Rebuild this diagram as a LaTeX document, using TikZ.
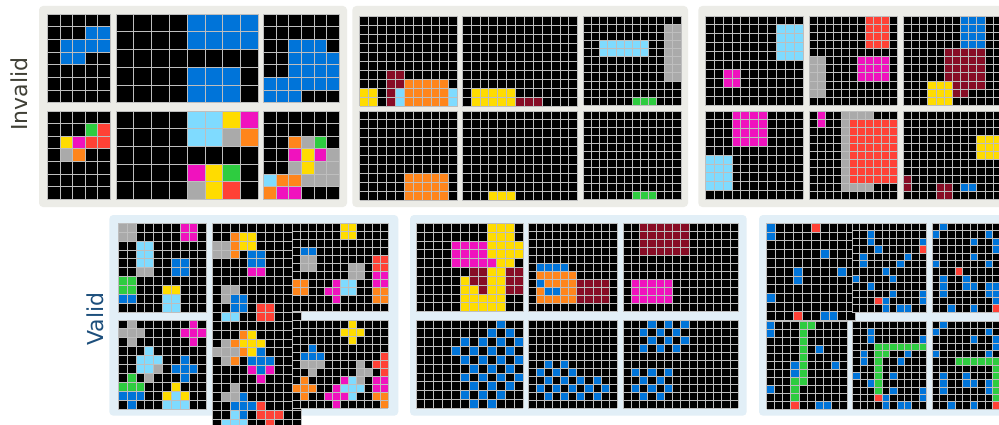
\documentclass[tikz,border=0pt]{standalone}
\usepackage{fontspec}
\newfontfamily\labelfont{DejaVu Sans}
\definecolor{ablue}{HTML}{0074D9}
\definecolor{ared}{HTML}{FF4136}
\definecolor{agreen}{HTML}{2ECC40}
\definecolor{ayellow}{HTML}{FFDC00}
\definecolor{agray}{HTML}{AAAAAA}
\definecolor{amag}{HTML}{F012BE}
\definecolor{aorange}{HTML}{FF851B}
\definecolor{alb}{HTML}{7FDBFF}
\definecolor{amar}{HTML}{870C25}
\definecolor{gridc}{HTML}{BEBEBE}
\definecolor{invbg}{HTML}{ECECE7}
\definecolor{valbg}{HTML}{E2EFF7}
\definecolor{invtext}{HTML}{404036}
\definecolor{valtext}{HTML}{1D4F7C}
\newcommand\ArcGrid[7]{%
  \begin{scope}[shift={(#1,#2)}]
    \fill[black] (0,0) rectangle ({#3*#5},{#4*#6});
    \foreach \qa/\qb/\qc/\qd/\qe in {#7} {
      \fill[\qe] ({\qa*#5},{\qb*#6}) rectangle ({(\qc+1)*#5},{(\qd+1)*#6});
    }
    \foreach \i in {0,...,#3} \draw[gl] ({\i*#5},0) -- ({\i*#5},{#4*#6});
    \foreach \j in {0,...,#4} \draw[gl] (0,{\j*#6}) -- ({#3*#5},{\j*#6});
  \end{scope}}
\begin{document}
\begin{tikzpicture}[x=1pt,y=-1pt,
  gl/.style={draw=gridc,line width=0.9pt},
  panel/.style={rounded corners=4pt},
  lbl/.style={rotate=90,inner sep=0pt,font=\labelfont\fontsize{22}{22}\selectfont}]
\useasboundingbox (0,0) rectangle (999,425);
\clip (0,0) rectangle (999,425);
\fill[white] (0,0) rectangle (999,425);

% ---------- labels ----------
\node[lbl,text=invtext] (invalid) at (19.5,94) {Invalid};
\node[lbl,text=valtext] (valid) at (95,319) {Valid};

% ---------- panel backgrounds ----------
\fill[invbg,panel] (39,6) rectangle (347,207);
\fill[invbg,panel] (352.3,6) rectangle (688,207);
\fill[invbg,panel] (698.3,6) rectangle (1010,207);
\fill[valbg,panel] (109.3,215) rectangle (398.3,415.7);
\fill[valbg,panel] (410,215) rectangle (746.7,415.7);
\fill[valbg,panel] (759,215) rectangle (1010,415.7);

% ---------- invalid panel 1 ----------
\ArcGrid{47.3}{14}{5}{7}{12.66}{12.67}{3/1/4/1/ablue, 1/2/4/2/ablue, 1/3/2/3/ablue}
\ArcGrid{116}{14}{8}{5}{17.79}{17.74}{4/0/7/1/ablue, 4/3/6/4/ablue}
\ArcGrid{263.3}{14}{6}{7}{12.67}{12.67}{2/2/4/2/ablue, 2/3/5/4/ablue, 0/5/5/5/ablue, 0/6/2/6/ablue}
\ArcGrid{47.3}{111}{5}{7}{12.66}{12.61}{3/1/3/1/agreen, 4/1/4/1/ared, 1/2/1/2/ayellow, 2/2/2/2/amag, 3/2/4/2/ared, 1/3/1/3/agray, 2/3/2/3/aorange}
\ArcGrid{116}{111}{8}{5}{17.79}{17.66}{4/0/5/1/alb, 6/0/6/0/ayellow, 7/0/7/0/amag, 6/1/6/1/agray, 7/1/7/1/aorange, 4/3/4/3/amag, 5/3/5/4/ayellow, 6/3/6/3/agreen, 4/4/4/4/agray, 6/4/6/4/ared}
\ArcGrid{263.3}{111}{6}{7}{12.67}{12.61}{2/2/2/2/aorange, 3/2/3/2/agray, 4/2/4/2/agreen, 2/3/2/3/amag, 3/3/3/4/ayellow, 4/3/4/3/amag, 5/3/5/5/agray, 2/4/2/4/agray, 4/4/4/5/agray, 3/5/3/5/agray, 0/5/0/5/alb, 1/5/2/5/aorange, 0/6/0/6/aorange, 1/6/2/6/amag}

% ---------- invalid panel 2 ----------
\ArcGrid{359.7}{16}{11}{10}{8.91}{9}{3/6/4/7/amar, 3/8/3/9/amar, 4/8/4/9/alb, 5/7/9/9/aorange, 0/8/1/9/ayellow, 10/8/10/9/alb}
\ArcGrid{462.3}{16}{13}{10}{8.88}{9}{1/8/5/9/ayellow, 6/9/8/9/amar}
\ArcGrid{583.5}{16.3}{12}{11}{8.13}{8.09}{2/3/7/4/alb, 10/1/11/7/agray, 6/10/8/10/agreen}
\ArcGrid{359.7}{111}{11}{10}{8.91}{8.9}{5/7/9/9/aorange}
\ArcGrid{462.3}{111}{13}{10}{8.88}{8.9}{3/9/5/9/ayellow}
\ArcGrid{583.5}{111.3}{12}{11}{8.13}{8.04}{6/10/8/10/agreen}

% ---------- invalid panel 3 ----------
\ArcGrid{705.3}{16}{11}{10}{8.9}{8.93}{8/1/10/4/alb, 2/6/3/7/amag}
\ArcGrid{809}{16}{11}{11}{8.03}{8.12}{7/0/9/3/ared, 6/5/9/7/amag, 0/5/1/9/agray}
\ArcGrid{903.3}{16.3}{12}{11}{8.17}{8.09}{7/0/9/3/ablue, 5/4/9/8/amar, 5/9/7/9/amar, 3/8/5/10/ayellow}
\ArcGrid{705.3}{111}{11}{10}{8.9}{8.83}{3/0/6/3/amag, 0/5/2/8/alb}
\ArcGrid{809}{111}{11}{11}{8.03}{8.03}{1/0/1/1/amag, 4/0/7/9/agray, 5/1/10/8/ared}
\ArcGrid{903.3}{111.3}{12}{11}{8.17}{8.04}{9/3/11/5/ayellow, 0/8/0/9/amar, 4/9/5/10/amar, 7/9/8/9/ablue}

% ---------- valid panel 1 ----------
\ArcGrid{118.3}{223.3}{10}{10}{8.84}{8.9}{0/0/1/1/agray, 7/0/8/1/amag, 2/2/3/4/alb, 2/5/3/5/agray, 6/4/7/5/ablue, 0/6/1/7/agreen, 0/8/1/8/ablue, 5/7/6/7/ayellow, 5/8/6/9/alb}
\ArcGrid{118.3}{320}{10}{10}{8.84}{8.93}{1/0/1/2/agray, 0/1/2/1/agray, 8/0/8/2/amag, 7/1/9/1/amag, 3/3/3/3/alb, 2/4/4/4/alb, 2/5/3/5/alb, 4/5/4/5/agray, 3/6/3/6/agray, 7/4/7/6/ablue, 6/5/8/5/ablue, 1/6/1/6/agreen, 0/7/2/7/agreen, 0/8/2/8/ablue, 1/9/1/9/ablue, 6/7/6/7/ayellow, 5/8/5/8/ayellow, 7/8/7/8/ayellow, 6/8/6/8/alb, 5/9/7/9/alb}
\ArcGrid{212.3}{223.3}{10}{23}{8.9}{8.9}{2/1/2/3/aorange, 3/1/4/2/ayellow, 0/2/1/3/agray, 4/3/5/4/ablue, 4/5/5/5/amag, 1/7/2/7/agray, 1/8/1/8/agray, 2/8/3/9/ablue, 1/10/2/10/alb, 5/9/6/10/ared, 3/12/3/12/aorange, 4/12/4/12/ayellow, 1/13/1/13/agray, 2/13/2/13/aorange, 3/13/5/13/ayellow, 0/14/2/14/agray, 3/14/3/14/aorange, 4/14/4/14/ayellow, 5/14/5/14/ablue, 1/15/1/15/agray, 2/15/2/15/aorange, 4/15/6/15/ablue, 4/16/4/16/amag, 5/16/5/16/ablue, 6/16/6/16/amag, 5/17/5/17/amag, 2/18/2/18/agray, 1/19/2/19/agray, 3/19/3/19/ablue, 2/20/4/20/ablue, 5/20/5/20/ared, 2/21/2/21/alb, 3/21/3/21/ablue, 5/21/7/21/ared, 1/22/3/22/alb, 6/22/6/22/ared}
\ArcGrid{292.3}{223.3}{12}{11}{8.0}{8.04}{6/0/7/1/ayellow, 1/3/2/3/ablue, 1/4/2/5/agray, 10/4/11/5/ared, 10/6/11/7/amag, 10/8/11/9/aorange, 7/5/8/6/agray, 0/7/1/8/aorange, 5/7/5/7/amag, 4/8/5/8/amag, 5/9/5/9/amag, 6/7/7/8/alb}
\ArcGrid{292.3}{320}{12}{11}{8.0}{8.03}{7/0/7/2/ayellow, 6/1/8/1/ayellow, 2/3/2/3/ablue, 1/4/3/4/ablue, 1/5/3/5/agray, 2/6/2/6/agray, 11/4/11/6/ared, 10/5/10/5/ared, 8/5/8/7/agray, 9/6/9/6/agray, 1/7/1/9/aorange, 0/8/2/8/aorange, 6/7/6/7/amag, 5/8/5/8/amag, 4/9/6/9/amag, 5/10/5/10/amag, 7/7/7/9/alb, 6/8/8/8/alb, 10/7/11/8/amag, 10/9/11/9/aorange, 11/10/11/10/aorange}

% ---------- valid panel 2 ----------
\ArcGrid{416}{223.3}{12}{10}{8.94}{8.84}{8/0/10/1/ayellow, 4/2/7/3/amag, 8/2/11/3/ayellow, 4/4/8/4/amag, 9/4/10/4/ayellow, 6/5/7/5/amar, 8/5/9/7/ayellow, 10/5/11/7/amar, 5/6/5/9/ayellow, 6/6/7/6/amar, 6/7/6/7/ayellow, 7/7/7/7/amar, 6/8/9/9/ayellow}
\ArcGrid{528.3}{223.3}{11}{11}{8.09}{8.04}{1/5/4/5/ablue, 1/6/5/6/aorange, 1/7/1/7/ablue, 2/7/5/7/aorange, 1/8/1/8/aorange, 2/8/3/8/ablue, 4/8/5/8/aorange, 1/9/5/9/aorange, 6/7/9/9/amar}
\ArcGrid{623.3}{223.3}{14}{11}{8.21}{8.04}{2/0/7/3/amar, 1/7/5/9/amag}
\ArcGrid{416}{320}{12}{10}{8.94}{8.83}{9/0/9/0/ablue, 8/1/8/1/ablue, 10/1/10/1/ablue, 5/2/5/2/ablue, 7/2/7/2/ablue, 9/2/9/2/ablue, 11/2/11/2/ablue, 4/3/4/3/ablue, 6/3/6/3/ablue, 8/3/8/3/ablue, 10/3/10/3/ablue, 5/4/5/4/ablue, 7/4/7/4/ablue, 9/4/9/4/ablue, 11/4/11/4/ablue, 6/5/6/5/ablue, 8/5/8/5/ablue, 10/5/10/5/ablue, 5/6/5/6/ablue, 7/6/7/6/ablue, 9/6/9/6/ablue, 11/6/11/6/ablue, 6/7/6/7/ablue, 8/7/8/7/ablue, 10/7/10/7/ablue, 5/8/5/8/ablue, 7/8/7/8/ablue, 9/8/9/8/ablue, 6/9/6/9/ablue, 8/9/8/9/ablue}
\ArcGrid{528.3}{320}{11}{11}{8.09}{8.03}{2/5/2/5/ablue, 4/5/4/5/ablue, 1/6/1/6/ablue, 3/6/3/6/ablue, 5/6/5/6/ablue, 2/7/2/7/ablue, 4/7/4/7/ablue, 6/7/6/7/ablue, 8/7/8/7/ablue, 1/8/1/8/ablue, 3/8/3/8/ablue, 5/8/5/8/ablue, 7/8/7/8/ablue, 9/8/9/8/ablue, 2/9/2/9/ablue, 4/9/4/9/ablue, 6/9/6/9/ablue, 8/9/8/9/ablue}
\ArcGrid{623.3}{320}{14}{11}{8.21}{8.03}{3/0/3/0/ablue, 5/0/5/0/ablue, 7/0/7/0/ablue, 2/1/2/1/ablue, 4/1/4/1/ablue, 6/1/6/1/ablue, 3/2/3/2/ablue, 5/2/5/2/ablue, 7/2/7/2/ablue, 2/3/2/3/ablue, 4/3/4/3/ablue, 6/3/6/3/ablue, 1/6/1/6/ablue, 3/6/3/6/ablue, 5/6/5/6/ablue, 2/7/2/7/ablue, 4/7/4/7/ablue, 1/8/1/8/ablue, 3/8/3/8/ablue, 5/8/5/8/ablue, 2/9/2/9/ablue, 4/9/4/9/ablue}

% ---------- valid panel 3 ----------
\ArcGrid{766.7}{223.3}{10}{11}{8.9}{8.79}{0/0/0/1/ablue, 5/0/5/0/ared, 6/3/6/3/ablue, 3/5/3/6/ablue, 8/5/8/5/ablue, 0/8/0/8/ablue, 3/10/3/10/ared, 6/10/7/10/ablue}
\ArcGrid{852.3}{223.3}{10}{12}{7.44}{7.42}{2/1/2/2/ablue, 3/3/3/3/ablue, 9/2/9/2/ablue, 9/3/9/3/ared, 1/4/1/5/ablue, 7/4/7/4/ablue, 6/5/6/5/ablue, 4/6/4/6/ablue, 0/7/0/7/ablue, 5/7/5/7/ablue, 2/8/2/8/ablue, 5/9/5/9/ablue, 4/10/4/10/ablue, 3/10/3/10/ared, 9/9/9/10/ablue, 6/11/7/11/ablue, 4/11/4/11/ablue}
\ArcGrid{932.3}{223.3}{12}{12}{7.57}{7.42}{1/0/1/0/ablue, 0/1/0/1/ablue, 7/1/7/1/ablue, 5/2/5/2/ablue, 8/2/8/3/ablue, 5/4/5/4/ablue, 0/5/0/5/ablue, 7/5/7/5/ablue, 3/6/3/6/ared, 1/7/1/7/ablue, 4/7/4/8/ablue, 5/8/5/8/ablue, 1/8/1/9/ablue, 7/8/8/9/ablue, 8/10/8/10/ablue, 8/11/8/11/ared, 2/11/2/11/ablue, 5/11/5/11/ablue}
\ArcGrid{766.7}{321}{10}{11}{8.07}{8}{0/0/0/1/ablue, 4/0/5/0/agreen, 4/1/4/7/agreen, 3/7/3/9/agreen, 6/3/6/3/ablue, 3/5/3/6/ablue, 8/5/8/5/ablue, 0/8/0/8/ablue, 3/10/3/10/ared, 6/10/7/10/ablue}
\ArcGrid{852.7}{321}{10}{12}{7.4}{7.33}{2/1/2/2/ablue, 3/3/9/3/agreen, 3/4/4/4/agreen, 3/5/3/9/agreen, 9/2/9/2/ablue, 1/4/1/5/ablue, 7/4/7/4/ablue, 6/5/6/5/ablue, 0/7/0/7/ablue, 5/7/5/7/ablue, 2/8/2/8/ablue, 5/9/5/9/ablue, 4/10/4/10/ablue, 3/10/3/10/ared, 9/9/9/10/ablue, 6/11/7/11/ablue, 4/11/4/11/ablue}
\ArcGrid{932.3}{321}{12}{12}{7.57}{7.33}{1/0/1/0/ablue, 0/1/0/1/ablue, 7/1/7/1/ablue, 5/2/5/2/ablue, 8/2/8/3/ablue, 0/4/0/4/ablue, 3/5/11/5/agreen, 8/6/8/10/agreen, 7/4/7/4/ablue, 1/7/1/7/ablue, 4/7/4/8/ablue, 5/8/5/8/ablue, 1/8/1/9/ablue, 7/8/7/9/ablue, 8/11/8/11/ared, 2/11/2/11/ablue, 5/11/5/11/ablue}
\end{tikzpicture}
\end{document}
